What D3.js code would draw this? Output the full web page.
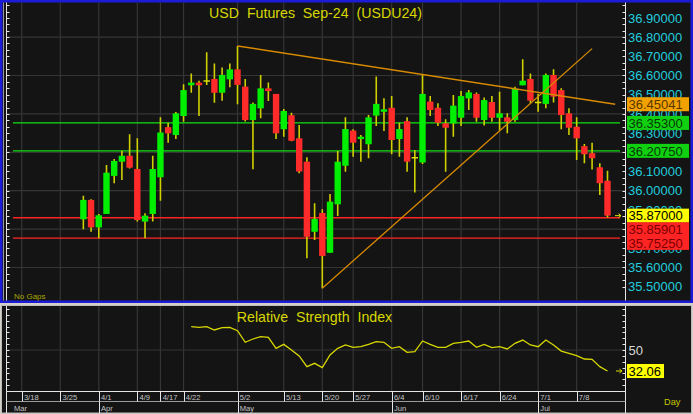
<!DOCTYPE html>
<html><head><meta charset="utf-8">
<script src="https://cdn.jsdelivr.net/npm/d3@7"></script>
<style>
html,body{margin:0;padding:0;background:#d4d0c8;}
svg{display:block;font-family:"Liberation Sans",Arial,sans-serif;}
</style>
</head><body><svg id="c" width="693" height="414"></svg>
<script>
// ---------- DATA ----------
const slots = ["3/18","3/19","3/20","3/21","3/22","3/25","3/26","3/27","3/28","3/29",
"4/1","4/2","4/3","4/4","4/5","4/9","4/10","4/11","4/17","4/18","4/19",
"4/22","4/23","4/24","4/25","4/26","4/29","4/30","5/2","5/3","5/7","5/8","5/9","5/10",
"5/13","5/14","5/15","5/16","5/17","5/20","5/21","5/23","5/24",
"5/27","5/28","5/29","5/30","5/31","6/4","6/5","6/6","6/7",
"6/10","6/11","6/12","6/13","6/14","6/17","6/18","6/19","6/20","6/21",
"6/24","6/25","6/26","6/27","6/28","7/1","7/2","7/3","7/4","7/5",
"7/8","7/9","7/10","7/11","7/12"];
const firstBar = "3/28";
const open = [35.851,35.952,35.809,35.879,36.077,36.151,36.182,36.113,35.839,35.879,
36.070,36.331,36.290,36.389,36.549,36.563,36.571,36.582,36.510,36.580,
36.632,36.542,36.368,36.429,36.533,36.504,36.320,36.393,36.273,36.151,
35.786,35.884,35.677,35.929,36.130,36.313,36.269,36.242,36.391,36.411,
36.432,36.269,36.362,36.172,36.147,36.464,36.432,36.351,36.351,36.380,
36.481,36.504,36.368,36.462,36.380,36.382,36.368,36.549,36.582,36.460,
36.452,36.603,36.524,36.403,36.333,36.232,36.195,36.122,36.052];
const high = [35.974,35.955,35.879,36.134,36.165,36.208,36.294,36.273,35.882,36.182,
36.382,36.354,36.410,36.554,36.611,36.573,36.721,36.663,36.642,36.663,
36.754,36.582,36.460,36.603,36.563,36.504,36.426,36.406,36.342,36.174,
35.934,35.903,35.983,36.207,36.382,36.320,36.290,36.394,36.595,36.481,
36.493,36.354,36.382,36.212,36.603,36.493,36.455,36.372,36.498,36.519,
36.524,36.512,36.486,36.493,36.516,36.403,36.542,36.684,36.611,36.504,
36.611,36.632,36.533,36.430,36.382,36.243,36.250,36.143,36.104];
const low = [35.799,35.786,35.752,35.879,36.039,36.056,36.115,35.839,35.752,35.839,
35.948,36.250,36.269,36.359,36.510,36.389,36.551,36.458,36.469,36.539,
36.450,36.360,36.112,36.377,36.467,36.269,36.281,36.258,36.091,35.648,
35.743,35.492,35.675,35.868,36.099,36.177,36.151,36.169,36.337,36.311,
36.190,36.177,36.099,35.990,36.139,36.389,36.337,36.099,36.281,36.337,
36.420,36.359,36.339,36.359,36.313,36.299,36.359,36.549,36.455,36.411,
36.429,36.460,36.320,36.290,36.160,36.143,36.111,35.978,35.861];
const close = [35.952,35.809,35.872,36.094,36.155,36.182,36.120,35.847,35.870,36.113,
36.303,36.299,36.403,36.524,36.563,36.549,36.571,36.510,36.603,36.632,
36.551,36.368,36.452,36.533,36.519,36.299,36.415,36.260,36.100,35.760,
35.853,35.660,35.943,36.151,36.321,36.250,36.281,36.382,36.452,36.424,
36.264,36.321,36.151,36.172,36.504,36.420,36.354,36.328,36.443,36.493,
36.512,36.380,36.472,36.380,36.403,36.359,36.531,36.573,36.469,36.460,
36.603,36.490,36.394,36.328,36.273,36.190,36.169,36.039,35.870];
const rsiStart = "4/23";
const rsi = [69.9,69.4,70.0,67.1,69.1,69.4,66.5,56.6,59.4,61.4,
60.8,51.4,54.8,50.0,44.9,35.8,38.6,34.9,45.7,51.4,
54.3,52.3,52.8,54.8,57.1,56.6,51.4,52.8,48.0,48.6,
57.7,54.8,52.3,52.3,55.7,56.6,57.7,52.3,54.8,52.0,
52.8,50.9,55.7,58.5,54.3,52.8,58.5,54.3,49.1,47.2,
45.2,42.3,42.0,35.8,32.06];
const priceTicks = [36.9,36.8,36.7,36.6,36.5,36.4,36.3,36.2,36.1,36.0,35.9,35.8,35.7,35.6,35.5];
const priceGrid = [36.8,36.6,36.4,36.2,36.0,35.8,35.6];
const dateTicks = ["3/18","3/25","4/1","4/9","4/17","4/22","5/2","5/13","5/20","5/27","6/4","6/10","6/17","6/24","7/1","7/8"];
const monthNames = ["Mar","Apr","May","Jun","Jul"];
const monthStarts = [null,"4/1","5/2","6/4","7/1"];
const greenLevels = [36.353, 36.2075];
const redLevels = [35.85901, 35.7525];
const downTrendIdx = [28, 77], downTrendVal = [36.754, 36.45041];
const upTrendIdx = [39, 74], upTrendVal = [35.492, 36.74];
const markerValues = [36.45041, 36.353, 36.2075, 35.87, 35.85901, 35.7525];
const markerKinds = ["trend","level","level","last","support","support"];
const rsiLabelTicks = [50];

// ---------- SCALES ----------
const idx = d => slots.indexOf(d);
const x = d3.scaleLinear().domain([0, slots.length-1]).range([21.7, 607.5]);
const y = d3.scaleLinear().domain([35.5, 36.9]).range([286.7, 17.9]);
const yr = d3.scaleLinear().domain([0,100]).range([408.5, 291.5]);

const svg = d3.select("#c");
svg.append("rect").attr("width",693).attr("height",414).attr("fill","#d4d0c8");
// panels
svg.append("rect").attr("x",1.25).attr("y",1.25).attr("width",690.5).attr("height",300.5)
  .attr("fill","#141414").attr("stroke","#1c1cd8").attr("stroke-width",2.5);
svg.append("line").attr("x1",3.5).attr("x2",3.5).attr("y1",2.5).attr("y2",300.5).attr("stroke","#9a9a9a");
svg.append("rect").attr("x",1.5).attr("y",305.5).attr("width",690).attr("height",107.5)
  .attr("fill","#141414").attr("stroke","#bdbdbd").attr("stroke-width",1);

const PL = 6.5, PR = 625.5, PT = 2.5, PB = 300.5;
const RT = 306, RB = 391.5;

// price gridlines
const g = svg.append("g");
g.selectAll(".vg").data(dateTicks).join("line")
  .attr("x1",d=>x(idx(d))).attr("x2",d=>x(idx(d))).attr("y1",PT).attr("y2",PB)
  .attr("stroke","#353535").attr("stroke-width",1.2);
g.selectAll(".hg").data(priceGrid).join("line")
  .attr("x1",PL).attr("x2",PR).attr("y1",d=>y(d)).attr("y2",d=>y(d))
  .attr("stroke","#353535").attr("stroke-width",1.2);

// axes lines & minor ticks (price)
const minor = d3.range(0, 48).map(k => 35.5 + k/30);
const ax = svg.append("g").attr("stroke","#e6e6e6");
ax.append("line").attr("x1",PL).attr("x2",PL).attr("y1",PT).attr("y2",PB);
ax.append("line").attr("x1",PR).attr("x2",PR).attr("y1",PT).attr("y2",PB);
ax.selectAll(".lt").data(minor.filter(v=>y(v)>4 && y(v)<299)).join("line")
  .attr("x1",PL).attr("x2",PL+3).attr("y1",d=>Math.round(y(d))+0.5).attr("y2",d=>Math.round(y(d))+0.5);
ax.selectAll(".rt").data(minor.filter(v=>y(v)>4 && y(v)<299)).join("line")
  .attr("x1",PR-3).attr("x2",PR).attr("y1",d=>Math.round(y(d))+0.5).attr("y2",d=>Math.round(y(d))+0.5);

// clip for price plot
svg.append("clipPath").attr("id","pc").append("rect").attr("x",PL).attr("y",PT).attr("width",PR-PL).attr("height",PB-PT);
const plot = svg.append("g").attr("clip-path","url(#pc)");

// level lines
plot.selectAll(".gl").data(greenLevels).join("line")
  .attr("x1",13).attr("x2",620).attr("y1",d=>y(d)).attr("y2",d=>y(d))
  .attr("stroke","#10e010").attr("stroke-width",1.3);
plot.selectAll(".rl").data(redLevels).join("line")
  .attr("x1",13).attr("x2",620).attr("y1",d=>y(d)).attr("y2",d=>y(d))
  .attr("stroke","#ff2424").attr("stroke-width",1.3);

// candles
const b0 = idx(firstBar);
const bars = open.map((o,k)=>({i:b0+k, o, h:high[k], l:low[k], c:close[k]}));
const cg = plot.append("g");
cg.selectAll(".wick").data(bars).join("line")
  .attr("x1",d=>x(d.i)).attr("x2",d=>x(d.i)).attr("y1",d=>y(d.h)).attr("y2",d=>y(d.l))
  .attr("stroke","#d0d000").attr("stroke-width",1.6);
cg.selectAll(".body").data(bars.filter(d=>d.c!==d.o)).join("rect")
  .attr("x",d=>x(d.i)-3.2).attr("width",6.4)
  .attr("y",d=>y(Math.max(d.o,d.c))).attr("height",d=>Math.max(1.5, y(Math.min(d.o,d.c))-y(Math.max(d.o,d.c))))
  .attr("fill",d=>d.c>d.o?"#00ee00":"#ff2a2a");
cg.selectAll(".doji").data(bars.filter(d=>d.c===d.o)).join("line")
  .attr("x1",d=>x(d.i)-3.2).attr("x2",d=>x(d.i)+3.2).attr("y1",d=>y(d.o)).attr("y2",d=>y(d.o))
  .attr("stroke","#e0e000").attr("stroke-width",1.5);

// trendlines
const tl = d3.line().x(d=>x(d[0])).y(d=>y(d[1]));
plot.append("path").attr("d",tl(downTrendIdx.map((v,k)=>[v,downTrendVal[k]])))
  .attr("fill","none").attr("stroke","#d88a00").attr("stroke-width",1.5);
plot.append("path").attr("d",tl(upTrendIdx.map((v,k)=>[v,upTrendVal[k]])))
  .attr("fill","none").attr("stroke","#d88a00").attr("stroke-width",1.3);

// title
svg.append("text").attr("x",315.5).attr("y",17.5).attr("text-anchor","middle")
  .style("white-space","pre").attr("font-size",14.2).attr("fill","#d8d800")
  .text("USD  Futures  Sep-24  (USDU24)");
svg.append("text").attr("x",14).attr("y",298.5).attr("font-size",8).attr("fill","#a8a800").text("No Gaps");

// right price axis labels
const fmt = d3.format(".5f");
const yAxis = d3.axisRight(y).tickValues(priceTicks).tickFormat(fmt).tickSize(0).tickPadding(0);
const ya = svg.append("g").attr("transform","translate(628,0)").call(yAxis);
ya.select(".domain").remove();
ya.selectAll("text").attr("font-size",13).attr("fill","#22ccdd").attr("font-family","Liberation Sans, Arial, sans-serif")
  .attr("x",0).attr("text-anchor","start");

// marker boxes
const mstyle = {trend:["#f2a200","#5a3500"], level:["#10d010","#063806"], last:["#ffff00","#000000"], support:["#ff2424","#7a0000"]};
const marks = markerValues.map((v,k)=>({v, kind:markerKinds[k]})).sort((a,b)=>b.v-a.v);
let prev = -1e9;
marks.forEach(m=>{ let yy = y(m.v); if (yy < prev + 13.6) yy = prev + 13.6; m.yy = yy; prev = yy; });
const mg = svg.append("g");
mg.selectAll("rect").data(marks).join("rect")
  .attr("x",627).attr("width",62).attr("y",d=>d.yy-7).attr("height",14)
  .attr("fill",d=>mstyle[d.kind][0]);
mg.selectAll("text").data(marks).join("text")
  .attr("x",628.5).attr("y",d=>d.yy).attr("dy","0.36em").attr("font-size",13)
  .attr("fill",d=>mstyle[d.kind][1]).text(d=>fmt(d.v));
// last price arrow
const lastC = close[close.length-1];
svg.append("path").attr("d",`M615,${y(lastC)}H621M618.5,${y(lastC)-2}L621,${y(lastC)}L618.5,${y(lastC)+2}`)
  .attr("fill","none").attr("stroke","#e0e000").attr("stroke-width",1);

// ---------- RSI PANEL ----------
const rg = svg.append("g");
rg.selectAll(".vg").data(dateTicks).join("line")
  .attr("x1",d=>x(idx(d))).attr("x2",d=>x(idx(d))).attr("y1",RT).attr("y2",RB)
  .attr("stroke","#353535").attr("stroke-width",1.2);
rg.selectAll(".hg").data(rsiLabelTicks).join("line")
  .attr("x1",PL).attr("x2",PR).attr("y1",d=>yr(d)).attr("y2",d=>yr(d))
  .attr("stroke","#353535").attr("stroke-width",1.2);
const rmin = d3.range(0,101,5).filter(v=>yr(v)>RT+2 && yr(v)<RB-3);
const rax = svg.append("g").attr("stroke","#e6e6e6");
rax.append("line").attr("x1",PL).attr("x2",PL).attr("y1",RT).attr("y2",413);
rax.append("line").attr("x1",PR).attr("x2",PR).attr("y1",RT).attr("y2",413);
rax.selectAll(".l").data(rmin).join("line").attr("x1",PL).attr("x2",PL+3)
  .attr("y1",d=>Math.round(yr(d))+0.5).attr("y2",d=>Math.round(yr(d))+0.5);
rax.selectAll(".r").data(rmin).join("line").attr("x1",PR-3).attr("x2",PR)
  .attr("y1",d=>Math.round(yr(d))+0.5).attr("y2",d=>Math.round(yr(d))+0.5);

const r0 = idx(rsiStart);
svg.append("path").datum(rsi)
  .attr("d",d3.line().x((d,k)=>x(r0+k)).y(d=>yr(d)))
  .attr("fill","none").attr("stroke","#d8d800").attr("stroke-width",1.3);
svg.append("text").attr("x",314.5).attr("y",321.5).attr("text-anchor","middle")
  .style("white-space","pre").attr("font-size",14.2).attr("fill","#d8d800")
  .text("Relative  Strength  Index");
svg.selectAll(".rl").data(rsiLabelTicks).join("text").attr("x",628.5).attr("y",d=>yr(d)).attr("dy","0.36em")
  .attr("font-size",13).attr("fill","#d8d8d8").text(d=>d);
const lastR = rsi[rsi.length-1];
svg.append("rect").attr("x",627).attr("y",yr(lastR)-7).attr("width",37).attr("height",14).attr("fill","#ffff00");
svg.append("text").attr("x",628.5).attr("y",yr(lastR)).attr("dy","0.36em").attr("font-size",13).attr("fill","#000").text(d3.format(".2f")(lastR));
svg.append("path").attr("d",`M616,${yr(lastR)}H622M619.5,${yr(lastR)-2}L622,${yr(lastR)}L619.5,${yr(lastR)+2}`)
  .attr("fill","none").attr("stroke","#e0e000").attr("stroke-width",1);

// ---------- DATE AXIS ----------
const da = svg.append("g");
da.append("line").attr("x1",PL).attr("x2",PR).attr("y1",RB).attr("y2",RB).attr("stroke","#e6e6e6");
da.append("line").attr("x1",PL).attr("x2",PR).attr("y1",401.5).attr("y2",401.5).attr("stroke","#9a9a9a");
da.selectAll(".dt").data(dateTicks).join("line")
  .attr("x1",d=>Math.round(x(idx(d)))+0.5).attr("x2",d=>Math.round(x(idx(d)))+0.5).attr("y1",RB).attr("y2",401.5)
  .attr("stroke","#e6e6e6");
da.selectAll(".dl").data(dateTicks).join("text")
  .attr("x",d=>x(idx(d))+2.2).attr("y",399.5).attr("font-size",7.6).attr("fill","#c4c4c4").text(d=>d);
const months = monthNames.map((m,k)=>({m, xx: monthStarts[k] ? x(idx(monthStarts[k])) : null}));
da.selectAll(".mt").data(months.filter(d=>d.xx!==null)).join("line")
  .attr("x1",d=>Math.round(d.xx)+0.5).attr("x2",d=>Math.round(d.xx)+0.5).attr("y1",401.5).attr("y2",413)
  .attr("stroke","#e6e6e6");
da.selectAll(".ml").data(months).join("text")
  .attr("x",d=>d.xx===null? 14 : d.xx+2.2).attr("y",410.5).attr("font-size",7.6).attr("fill","#c4c4c4").text(d=>d.m);
svg.append("text").attr("x",664).attr("y",405).attr("font-size",9.2).attr("fill","#c8c800").text("Day");
</script>
</body></html>
